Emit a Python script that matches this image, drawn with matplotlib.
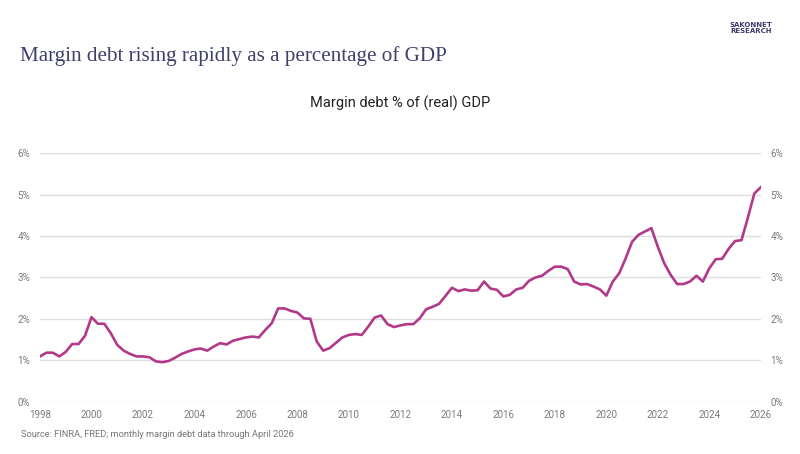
import numpy as np
import matplotlib.pyplot as plt

# quarterly readings, 1998Q1 .. 2026Q1
values = [
    1.09, 1.18, 1.18, 1.09,   # 1998
    1.20, 1.39, 1.39, 1.59,   # 1999
    2.04, 1.88, 1.88, 1.65,   # 2000
    1.37, 1.23, 1.15, 1.09,   # 2001
    1.09, 1.07, 0.97, 0.95,   # 2002
    0.98, 1.06, 1.15, 1.21,   # 2003
    1.26, 1.28, 1.23, 1.33,   # 2004
    1.41, 1.38, 1.47, 1.51,   # 2005
    1.55, 1.57, 1.55, 1.73,   # 2006
    1.89, 2.25, 2.25, 2.19,   # 2007
    2.15, 2.01, 2.00, 1.45,   # 2008
    1.23, 1.29, 1.42, 1.55,   # 2009
    1.61, 1.63, 1.61, 1.81,   # 2010
    2.03, 2.08, 1.87, 1.80,   # 2011
    1.84, 1.87, 1.87, 2.01,   # 2012
    2.23, 2.29, 2.36, 2.55,   # 2013
    2.75, 2.67, 2.71, 2.68,   # 2014
    2.69, 2.90, 2.73, 2.70,   # 2015
    2.54, 2.58, 2.71, 2.75,   # 2016
    2.92, 3.00, 3.04, 3.16,   # 2017
    3.26, 3.26, 3.20, 2.90,   # 2018
    2.83, 2.84, 2.78, 2.71,   # 2019
    2.56, 2.90, 3.10, 3.46,   # 2020
    3.86, 4.03, 4.11, 4.19,   # 2021
    3.74, 3.34, 3.06, 2.84,   # 2022
    2.84, 2.90, 3.04, 2.90,   # 2023
    3.22, 3.44, 3.45, 3.69,   # 2024
    3.88, 3.90, 4.45, 5.03,   # 2025
    5.18,                     # 2026
]
dates = 1998 + np.arange(len(values)) / 4.0

year_ticks = list(range(1998, 2027, 2))
pct_ticks = [0, 1, 2, 3, 4, 5, 6]

fig = plt.figure(figsize=(8, 4.54), dpi=100)
ax = fig.add_axes([0.05, 0.1156, 0.901, 0.5467])

ax.plot(dates, values, color='#b2388a', lw=1.9, solid_joinstyle='round', zorder=3)

ax.set_xlim(1998, 2026)
ax.set_ylim(0, 6)
ax.set_yticks(pct_ticks)
ax.set_yticklabels([f'{p}%' for p in pct_ticks])
ax.set_xticks(year_ticks)
ax.set_xticklabels([str(y) for y in year_ticks])
ax.grid(axis='y', color='#dedede', lw=1)
ax.set_axisbelow(True)
for s in ax.spines.values():
    s.set_visible(False)
ax.tick_params(length=0, labelsize=7, labelcolor='#7a7a7a', pad=7,
               labelright=True, right=False)
ax.tick_params(axis='x', pad=6)

# tick labels in Roboto (both sides)
for t in ax.xaxis.get_major_ticks() + ax.yaxis.get_major_ticks():
    t.label1.set_family('Roboto')
    t.label2.set_family('Roboto')

fig.text(0.025, 0.876, 'Margin debt rising rapidly as a percentage of GDP',
         family='Liberation Serif', fontsize=15.2, color='#40406e', va='center')
fig.text(0.5, 0.773, 'Margin debt % of (real) GDP', family='Roboto',
         fontsize=10.5, color='#222222', ha='center', va='center')
fig.text(0.939, 0.938, 'SAKONNET\nRESEARCH', family='DejaVu Sans', fontsize=5,
         fontweight='bold', color='#3c3c6c', ha='center', va='center',
         linespacing=0.9)
fig.text(0.026, 0.044, 'Source: FINRA, FRED; monthly margin debt data through April 2026',
         family='Roboto', fontsize=6.7, color='#777777', va='center')

fig.savefig('out.png', dpi=100)
